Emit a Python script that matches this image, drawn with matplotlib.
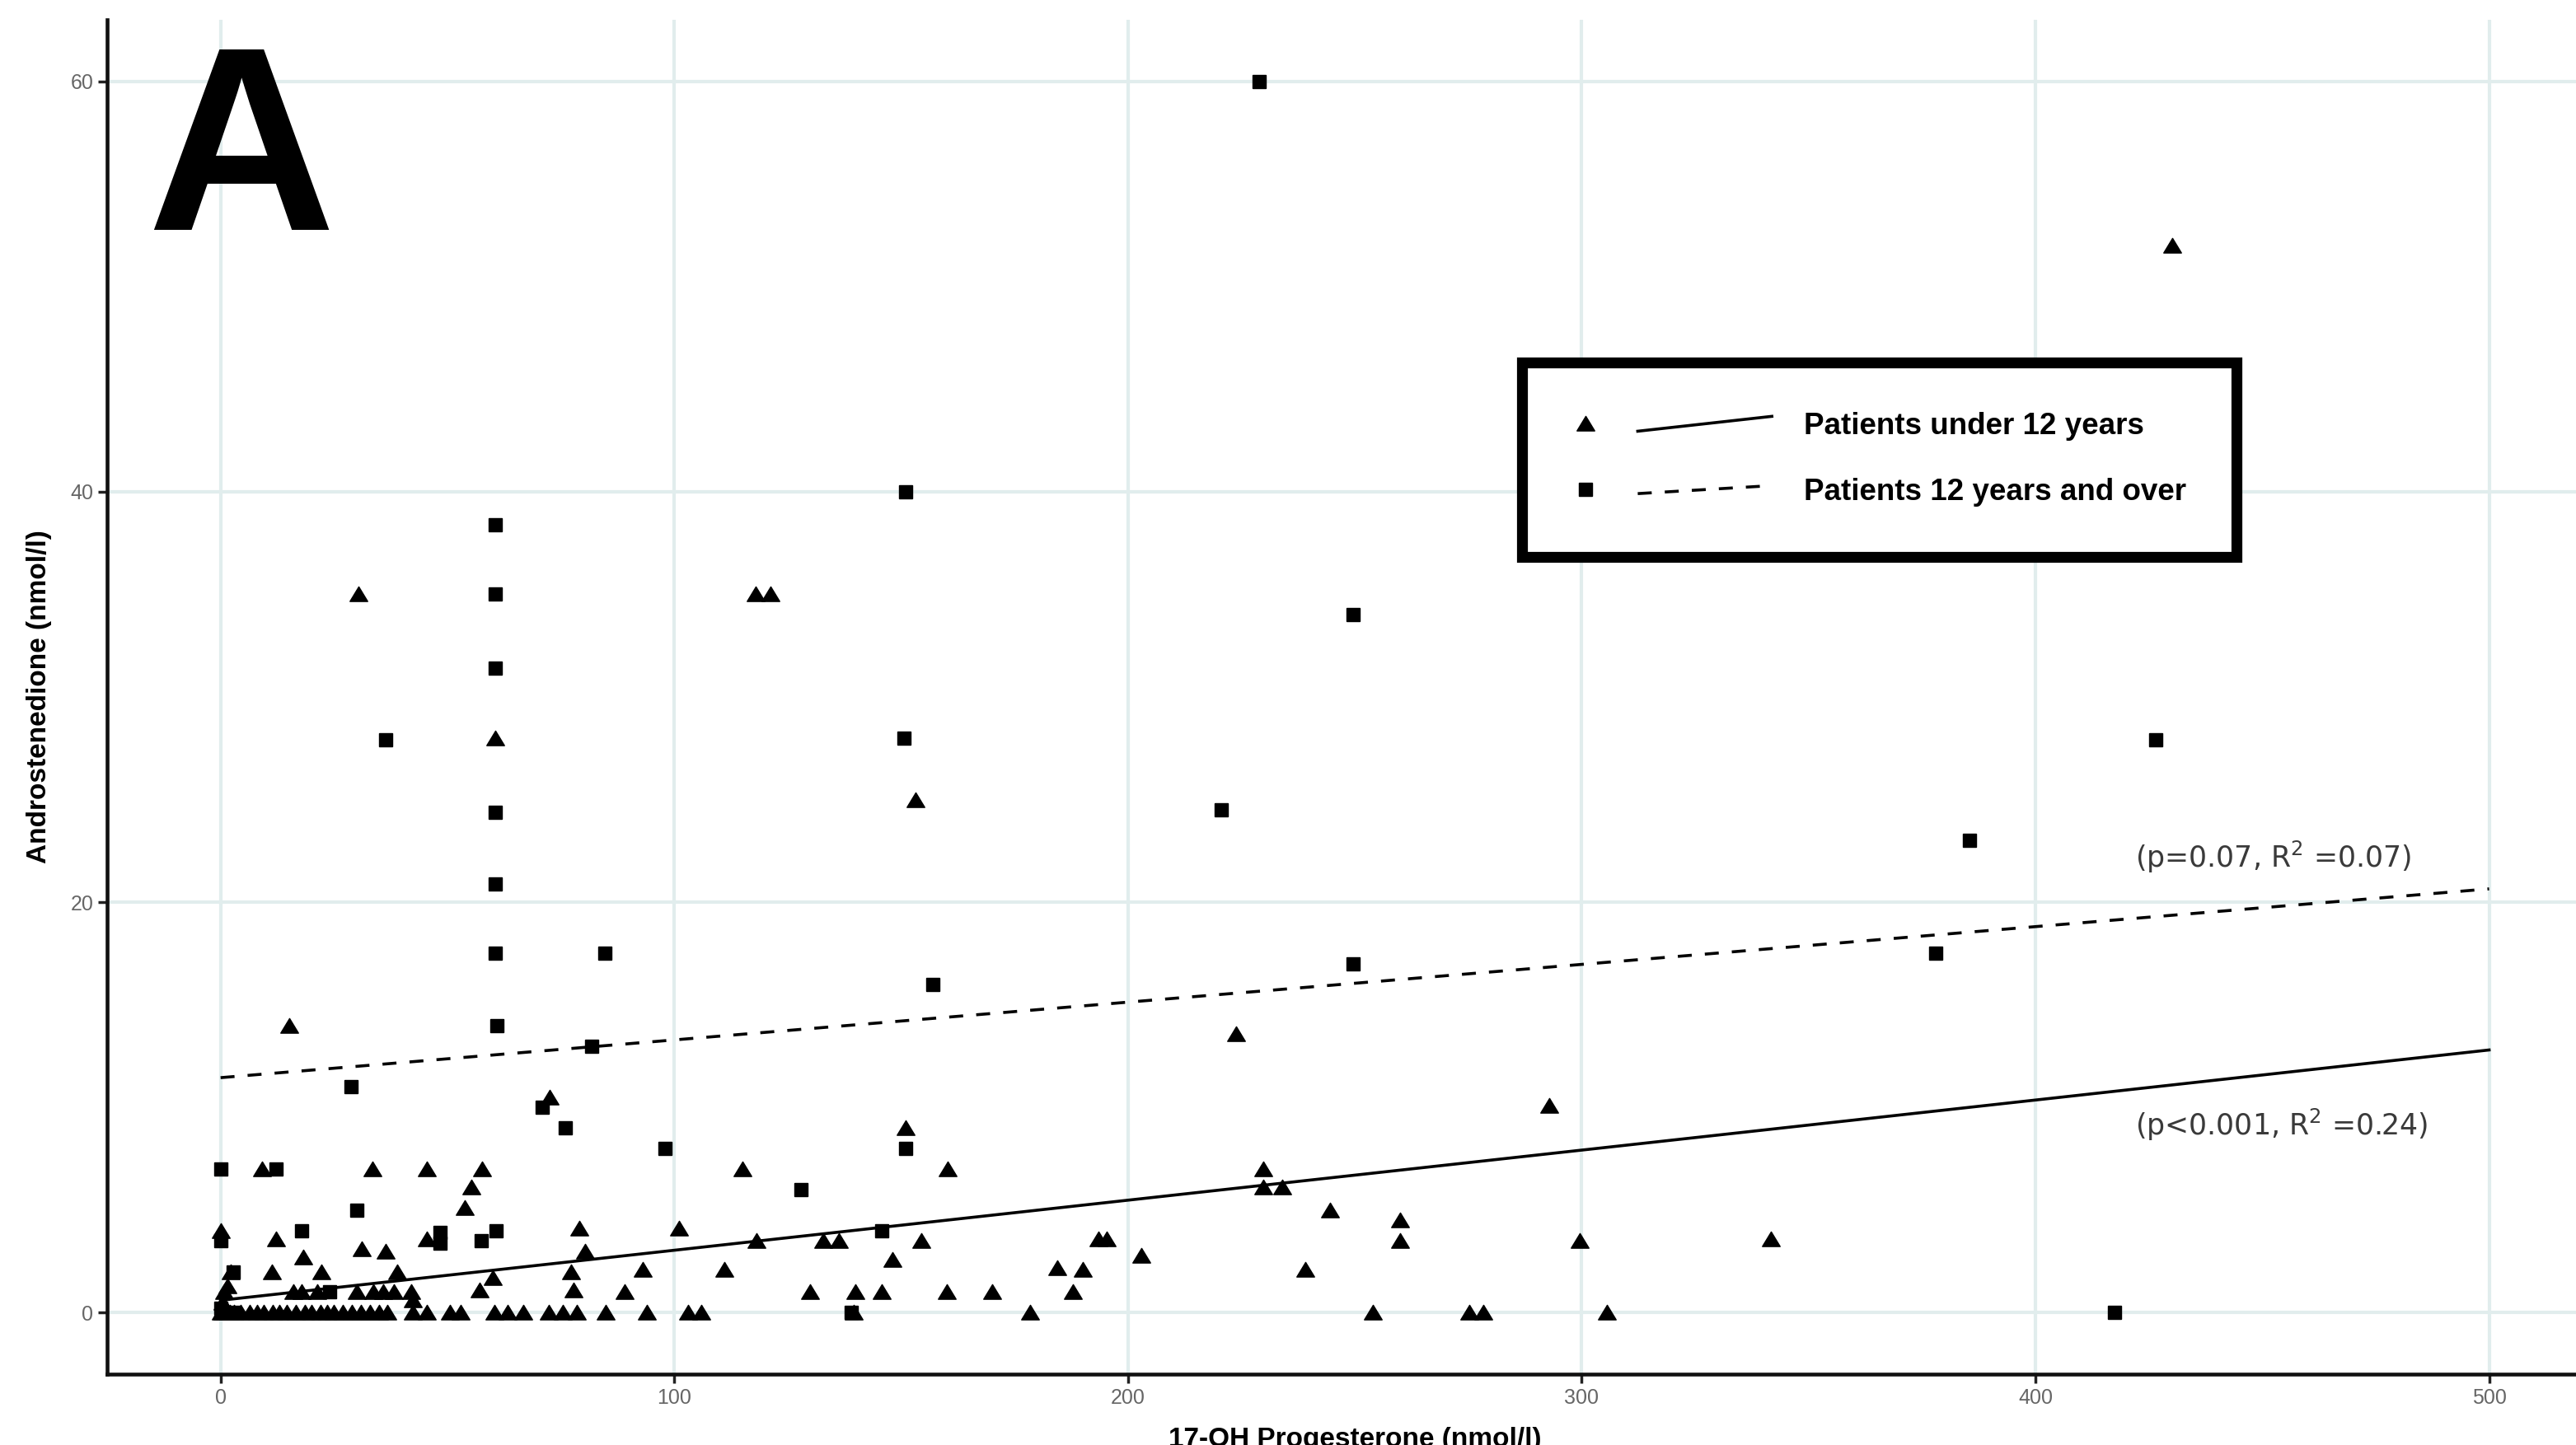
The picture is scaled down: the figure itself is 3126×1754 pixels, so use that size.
import matplotlib
matplotlib.use('Agg')
import matplotlib.pyplot as plt
from matplotlib.lines import Line2D
from matplotlib.path import Path
from matplotlib.legend_handler import HandlerBase

# patients under 12 years (triangles)
under12_x = [15.2, 72.6, 9.1, 33.5, 45.5, 57.6, 55.2, 53.9, 0.0, 12.2,
             18.3, 31.1, 36.3, 45.5, 79.1, 80.3, 2.2, 11.3, 22.2, 38.9,
             60.0, 77.2, 57.0, 77.8, 0.8, 16.1, 17.9, 21.3, 30.0, 33.7,
             35.8, 38.2, 42.1, 42.3, 0.5, 1.5,
             # bottom row (androstenedione ~ 0)
             0.0, 0.5, 1.0, 2.0, 3.0, 4.5, 6.5, 8.0, 9.5, 11.5,
             13.0, 14.5, 16.5, 18.5, 20.0, 22.0, 23.5, 25.0, 27.0, 29.0,
             31.0, 33.0, 35.0, 36.7, 42.4, 45.5, 50.6, 53.0, 60.3, 63.3,
             66.7, 72.4, 75.4, 78.5, 84.8, 93.9, 103.0, 106.0, 139.5, 178.5,
             254.0, 275.3, 278.4, 305.5,
             # higher x values
             30.4, 60.6, 118.0, 121.2, 153.1, 430.1, 223.9, 292.8, 151.0, 115.1,
             160.3, 229.8, 229.8, 234.0, 244.5, 101.0, 118.1, 132.9, 136.3, 154.4,
             193.5, 195.3, 260.0, 260.0, 299.6, 341.7, 148.0, 202.9, 93.0, 111.0,
             184.5, 190.0, 239.1, 89.1, 129.9, 139.9, 145.8, 160.0, 170.0, 187.9]
under12_y = [14.0, 10.5, 7.0, 7.0, 7.0, 7.0, 6.1, 5.1, 4.0, 3.6,
             2.7, 3.1, 3.0, 3.6, 4.1, 3.0, 2.0, 2.0, 2.0, 2.0,
             1.7, 2.0, 1.1, 1.1, 1.0, 1.0, 1.0, 1.0, 1.0, 1.0,
             1.0, 1.0, 1.0, 0.6, 0.5, 1.3,
             0, 0, 0, 0, 0, 0, 0, 0, 0, 0,
             0, 0, 0, 0, 0, 0, 0, 0, 0, 0,
             0, 0, 0, 0, 0, 0, 0, 0, 0, 0,
             0, 0, 0, 0, 0, 0, 0, 0, 0, 0,
             0, 0, 0, 0,
             35.0, 28.0, 35.0, 35.0, 25.0, 52.0, 13.6, 10.1, 9.0, 7.0,
             7.0, 7.0, 6.1, 6.1, 5.0, 4.1, 3.5, 3.5, 3.5, 3.5,
             3.6, 3.6, 4.5, 3.5, 3.5, 3.6, 2.6, 2.8, 2.1, 2.1,
             2.2, 2.1, 2.1, 1.0, 1.0, 1.0, 1.0, 1.0, 1.0, 1.0]

# patients 12 years and over (squares)
over12_x = [229.0, 151.0, 60.6, 60.6, 60.6, 36.4, 150.7, 249.7, 426.5, 220.6,
            60.6, 60.6, 60.6, 84.7, 385.5, 378.0, 249.7, 157.0, 60.9, 81.8,
            28.8, 70.9, 75.9, 97.9, 151.0, 0.0, 12.2, 127.9, 30.0, 17.9,
            60.7, 48.3, 48.3, 145.8, 57.4, 0.0, 2.8, 24.0, 139.0, 417.4,
            0.0, 3.0]
over12_y = [60.0, 40.0, 38.4, 35.0, 31.4, 27.9, 28.0, 34.0, 27.9, 24.5,
            24.4, 20.9, 17.5, 17.5, 23.0, 17.5, 17.0, 16.0, 14.0, 13.0,
            11.0, 10.0, 9.0, 8.0, 8.0, 7.0, 7.0, 6.0, 5.0, 4.0,
            4.0, 3.9, 3.4, 4.0, 3.5, 3.5, 2.0, 1.0, 0.0, 0.0,
            0.2, 0.0]

# linear fits (intercept, slope)
fit_under12 = (0.6, 0.0244)
fit_over12 = (11.45, 0.0184)
fit_x = [0, 500]

stats_under12 = '(p<0.001, R$^2$ =0.24)'
stats_over12 = '(p=0.07, R$^2$ =0.07)'
labels = ['Patients under 12 years', 'Patients 12 years and over']

x_ticks = [0, 100, 200, 300, 400, 500]
y_ticks = [0, 20, 40, 60]

plt.rcParams['font.family'] = ['Liberation Sans', 'DejaVu Sans']

# flatter triangle like the ggplot shape 17
tri = Path([(-1, -0.8), (1, -0.8), (0, 0.85), (-1, -0.8)],
           [Path.MOVETO, Path.LINETO, Path.LINETO, Path.CLOSEPOLY])


class MarkerThenLine(HandlerBase):
    '''Legend key: marker on the left, slightly tilted line on the right'''

    def __init__(self, rise):
        super().__init__()
        self.rise = rise

    def create_artists(self, legend, orig_handle, xdescent, ydescent,
                       width, height, fontsize, trans):
        mk, ln = orig_handle
        ymid = height / 2 - ydescent
        m = Line2D([-xdescent + 0.07 * width], [ymid], ls='none')
        m.update_from(mk)
        m.set_transform(trans)
        l = Line2D([-xdescent + 0.33 * width, -xdescent + width],
                   [ymid - self.rise / 2, ymid + self.rise / 2])
        l.update_from(ln)
        l.set_marker('None')
        l.set_transform(trans)
        return [m, l]


fig = plt.figure(figsize=(31.26, 17.54), dpi=100)
ax = fig.add_axes([0.0416, 0.049, 0.9687, 0.9373])

ax.plot(under12_x, under12_y, ls='none', marker=tri, markersize=15.5,
        color='black', zorder=3)
ax.plot(over12_x, over12_y, ls='none', marker='s', markersize=12,
        color='black', zorder=3)

fx = [float(v) for v in fit_x]
ax.plot(fx, [fit_under12[0] + fit_under12[1] * v for v in fx],
        color='black', lw=2.6, zorder=4)
ax.plot(fx, [fit_over12[0] + fit_over12[1] * v for v in fx],
        color='black', lw=2.6, dashes=(4.7, 4.4), zorder=4)

ax.text(422, 22.2, stats_over12, family='DejaVu Sans', fontsize=25,
        color='#3a3a3a', ha='left', va='center')
ax.text(422, 9.15, stats_under12, family='DejaVu Sans', fontsize=25,
        color='#3a3a3a', ha='left', va='center')

ax.set_xlim(-25, 525)
ax.set_ylim(-3, 63)
ax.set_xticks(x_ticks)
ax.set_yticks(y_ticks)
ax.grid(True, color='#e1eded', lw=3)
ax.set_axisbelow(True)
for side in ['top', 'right']:
    ax.spines[side].set_visible(False)
for side in ['left', 'bottom']:
    ax.spines[side].set_linewidth(3.3)
    ax.spines[side].set_color('#111111')
ax.tick_params(labelsize=18, labelcolor='#666666', length=8, width=2.5,
               color='#222222', pad=4)

ax.set_xlabel('17-OH Progesterone (nmol/l)', fontsize=24, fontweight='bold')
ax.set_ylabel('Androstenedione (nmol/l)', fontsize=24, fontweight='bold')
ax.xaxis.set_label_coords(0.5, -0.039)
ax.yaxis.set_label_coords(-0.022, 0.5)

# legend proxies
h1 = (Line2D([], [], ls='none', marker=tri, markersize=15.5, color='black'),
      Line2D([], [], color='black', lw=2.6))
h2 = (Line2D([], [], ls='none', marker='s', markersize=12, color='black'),
      Line2D([], [], color='black', lw=2.6, dashes=(4.7, 4.4)))
leg = ax.legend([h1, h2], labels,
                handler_map={h1: MarkerThenLine(13), h2: MarkerThenLine(7)},
                loc='upper left', bbox_to_anchor=(0.5907, 0.7494),
                bbox_transform=fig.transFigure, borderaxespad=0,
                prop={'family': 'Liberation Sans', 'weight': 'bold', 'size': 26.5},
                handlelength=6.6, handletextpad=1.05, borderpad=1.65,
                labelspacing=1.22, fancybox=False, framealpha=1,
                edgecolor='black')
leg.get_frame().set_linewidth(9.5)
leg.set_zorder(10)

fig.text(0.057, 0.841, 'A', fontsize=228, fontweight='bold',
         family='Liberation Sans', ha='left', va='baseline')

fig.savefig('out.png', dpi=100)
